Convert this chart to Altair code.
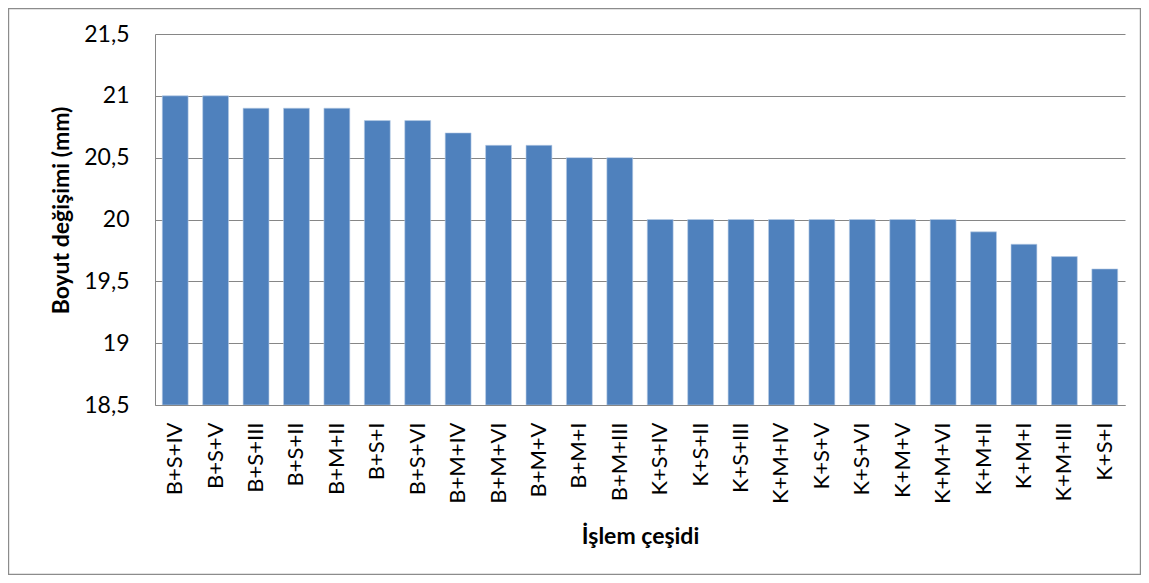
import altair as alt
import pandas as pd

categories = ["B+S+IV", "B+S+V", "B+S+III", "B+S+II", "B+M+II", "B+S+I", "B+S+VI",
              "B+M+IV", "B+M+VI", "B+M+V", "B+M+I", "B+M+III", "K+S+IV", "K+S+II",
              "K+S+III", "K+M+IV", "K+S+V", "K+S+VI", "K+M+V", "K+M+VI", "K+M+II",
              "K+M+I", "K+M+III", "K+S+I"]
values = [21.0, 21.0, 20.9, 20.9, 20.9, 20.8, 20.8, 20.7, 20.6, 20.6, 20.5, 20.5,
          20.0, 20.0, 20.0, 20.0, 20.0, 20.0, 20.0, 20.0, 19.9, 19.8, 19.7, 19.6]
y_ticks = [18.5, 19.0, 19.5, 20.0, 20.5, 21.0, 21.5]

df = pd.DataFrame({"cat": categories, "val": values})

FONT = "Lato"
W, H = 970, 371
PL, PT, PR, PB = 147, 26, 16, 170

bars = alt.Chart(df).mark_bar(color="#4F81BD", stroke="#B9CDE5", strokeWidth=0.6, clip=True).encode(
    x=alt.X("cat:N", sort=categories, title="İşlem çeşidi",
            scale=alt.Scale(paddingInner=0.36, paddingOuter=0.18),
            axis=alt.Axis(labelAngle=-90, labelAlign="right", labelBaseline="middle",
                          labelPadding=17, ticks=False, domainColor="#868686",
                          titlePadding=22, labelFontSize=22, titleFontSize=23,
                          titleFontWeight="bold")),
    y=alt.Y("val:Q", title="Boyut değişimi (mm)",
            scale=alt.Scale(domain=[18.5, 21.5], zero=False, nice=False),
            axis=alt.Axis(values=y_ticks, ticks=False, labelPadding=26,
                          labelExpr="replace(format(datum.value, '.1~f'), '.', ',')",
                          domainColor="#868686", gridColor="#868686", grid=True,
                          titlePadding=10, titleY=176, labelFontSize=23, titleFontSize=23,
                          titleFontWeight="bold")),
    y2=alt.datum(18.5),
)

border = alt.Chart(pd.DataFrame({"a": [0]})).mark_rect(
    filled=False, stroke="#8c8c8c", strokeWidth=1.2, clip=False
).encode(
    x=alt.value(-PL + 0.6), x2=alt.value(W + PR - 0.6),
    y=alt.value(-PT + 0.6), y2=alt.value(H + PB - 0.6),
)

chart = alt.layer(bars, border).properties(
    width=W, height=H,
    autosize=alt.AutoSizeParams(type="none"),
    padding={"left": PL, "top": PT, "right": PR, "bottom": PB},
).configure(font=FONT).configure_view(stroke=None).configure_axis(
    labelColor="#000000", titleColor="#000000", labelFont=FONT, titleFont=FONT
)

chart.save("out.html", embed_options={"renderer": "svg", "actions": False})
